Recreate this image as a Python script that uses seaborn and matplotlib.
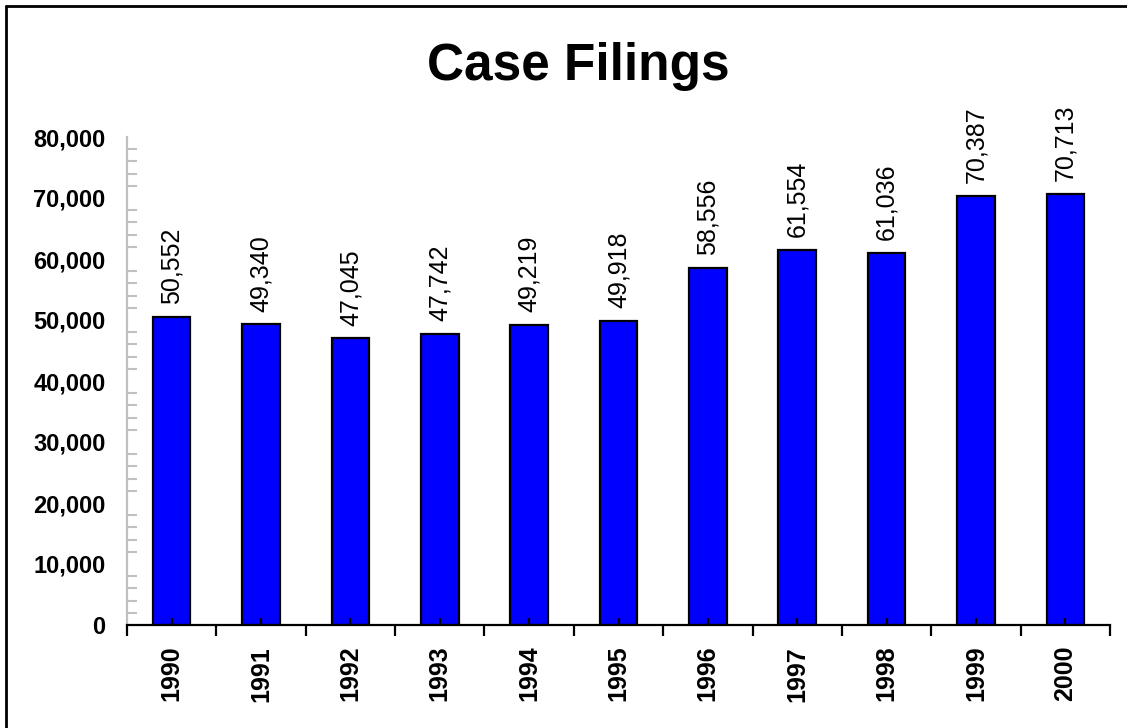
import matplotlib
matplotlib.use("Agg")
import matplotlib.pyplot as plt
from matplotlib.lines import Line2D
from matplotlib.ticker import MultipleLocator, FuncFormatter, FixedLocator
import seaborn as sns
import pandas as pd

years = ["1990", "1991", "1992", "1993", "1994", "1995", "1996", "1997", "1998", "1999", "2000"]
filings = [50552, 49340, 47045, 47742, 49219, 49918, 58556, 61554, 61036, 70387, 70713]
title = "Case Filings"

sns.set_theme(style="white")
plt.rcParams['font.family'] = ['Liberation Sans', 'DejaVu Sans']
plt.rcParams['text.color'] = 'black'
plt.rcParams['axes.labelcolor'] = 'black'
plt.rcParams['xtick.color'] = 'black'
plt.rcParams['ytick.color'] = 'black'

df = pd.DataFrame({"year": years, "filings": filings})

fig = plt.figure(figsize=(11.27, 7.28), dpi=100)
ax = fig.add_axes([127/1127, 1 - 625/728, (1110 - 127)/1127, (625 - 137)/728])

sns.barplot(data=df, x="year", y="filings", color="#0000FF", saturation=1,
            edgecolor="black", linewidth=1.6, width=0.42, ax=ax)

ax.set_xlim(-0.5, len(years) - 0.5)
ax.set_ylim(0, 80000)
ax.set_xlabel("")
ax.set_ylabel("")

for s in ["top", "right"]:
    ax.spines[s].set_visible(False)
ax.spines["bottom"].set_color("black")
ax.spines["bottom"].set_linewidth(1.6)
ax.spines["bottom"].set_zorder(5)
ax.spines["left"].set_color("#c0c0c0")
ax.spines["left"].set_linewidth(1.6)

# y axis
ax.yaxis.set_major_locator(MultipleLocator(10000))
ax.yaxis.set_minor_locator(MultipleLocator(2000))
ax.yaxis.set_major_formatter(FuncFormatter(lambda v, p: f"{int(v):,}"))
ax.tick_params(axis="y", which="major", direction="inout", length=15, width=1.5,
               color="#c0c0c0", labelsize=17, pad=8, labelcolor="black")
ax.tick_params(axis="y", which="minor", direction="in", length=7, width=1.5, color="#c0c0c0", left=True)
for lab in ax.get_yticklabels():
    lab.set_fontweight("bold")

# x axis
ax.set_xticks(range(len(years)))
ax.set_xticklabels(years, rotation=90, fontweight="bold", fontsize=18, color="black")
ax.xaxis.set_minor_locator(FixedLocator([i - 0.5 for i in range(len(years) + 1)]))
ax.tick_params(axis="x", which="major", direction="in", length=5, width=1.6, color="black",
               pad=15, bottom=True)
ax.tick_params(axis="x", which="minor", direction="out", length=8, width=1.6, color="black", bottom=True)
ax.xaxis.set_zorder(5)

ax.bar_label(ax.containers[0], labels=[f"{v:,}" for v in filings], rotation=90,
             padding=9, fontsize=18, color="black")

fig.text(578/1127, 1 - 80/728, title, ha="center", va="baseline", fontsize=37,
         fontweight="bold", color="black")

# figure frame (left and top)
fig.add_artist(Line2D([6/1127, 6/1127], [0, 1 - 6/728], transform=fig.transFigure, color="black", linewidth=2))
fig.add_artist(Line2D([6/1127, 1], [1 - 6/728, 1 - 6/728], transform=fig.transFigure, color="black", linewidth=2))

fig.savefig("out.png", dpi=100)
